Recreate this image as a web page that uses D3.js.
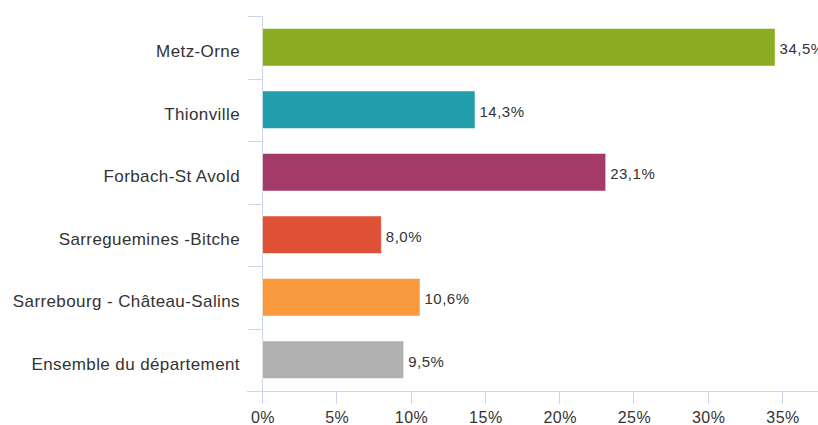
<!DOCTYPE html>
<html lang="fr">
<head>
    <meta charset="UTF-8">
    <title>Part par arrondissement</title>
    <style>
        body, html {
            margin: 0;
            padding: 0;
            background: #fff;
            overflow: hidden;
            font-family: "Liberation Sans", Arial, sans-serif;
        }
        .axis-line, .tick-line { stroke: #ccd6eb; stroke-width: 1; }
    </style>
</head>
<body>
    <svg id="chart" width="818" height="425"></svg>

    <script src="https://cdnjs.cloudflare.com/ajax/libs/d3/7.8.5/d3.min.js"></script>
    <script>
        const categories = ["Metz-Orne", "Thionville", "Forbach-St Avold", "Sarreguemines -Bitche", "Sarrebourg - Château-Salins", "Ensemble du département"];
        const values = [34.5, 14.3, 23.1, 8.0, 10.6, 9.5];
        const colors = ["#8aac23", "#219dac", "#a33a67", "#df5136", "#f89a3d", "#b0b0b0"];
        const xTicks = [0, 5, 10, 15, 20, 25, 30, 35];

        const svg = d3.select("#chart");

        const x = d3.scaleLinear().domain([0, 35]).range([262, 782]);
        const y = d3.scaleBand().domain(categories).range([16, 391]).paddingInner(0.4).paddingOuter(0.2);

        const fmt = v => d3.format(".1f")(v).replace(".", ",") + "%";

        // category boundary ticks on the left of the axis
        const bounds = d3.range(categories.length + 1).map(i => 16 + i * y.step());
        svg.selectAll(".ytick")
            .data(bounds)
            .enter().append("line")
            .attr("class", "tick-line")
            .attr("x1", 248).attr("x2", 262)
            .attr("y1", d => Math.round(d) + 0.5).attr("y2", d => Math.round(d) + 0.5);

        // axis lines
        svg.append("line")
            .attr("class", "axis-line")
            .attr("x1", 247).attr("x2", 818)
            .attr("y1", 391.5).attr("y2", 391.5);
        svg.append("line")
            .attr("class", "axis-line")
            .attr("x1", 262.5).attr("x2", 262.5)
            .attr("y1", 16).attr("y2", 391);

        svg.selectAll(".xtick")
            .data(xTicks)
            .enter().append("line")
            .attr("class", "tick-line")
            .attr("x1", d => Math.round(x(d)) + 0.5).attr("x2", d => Math.round(x(d)) + 0.5)
            .attr("y1", 391).attr("y2", 404);

        svg.selectAll(".xlabel")
            .data(xTicks)
            .enter().append("text")
            .attr("x", d => x(d) + 1)
            .attr("y", 423)
            .attr("text-anchor", "middle")
            .attr("fill", "#333")
            .style("font-size", "16px")
            .style("letter-spacing", "0.5px")
            .text(d => d + "%");

        // bars
        svg.selectAll(".bar")
            .data(values)
            .enter().append("rect")
            .attr("x", x(0) + 0.5)
            .attr("y", (d, i) => y(categories[i]))
            .attr("width", d => x(d) - x(0))
            .attr("height", y.bandwidth())
            .attr("fill", (d, i) => colors[i])
            .attr("stroke", "rgba(255,255,255,0.5)")
            .attr("stroke-width", 1);

        // value labels
        svg.selectAll(".val")
            .data(values)
            .enter().append("text")
            .attr("x", d => x(d) + 5)
            .attr("y", (d, i) => y(categories[i]) + y.bandwidth() / 2 + 7)
            .attr("fill", "#333")
            .style("font-size", "15px")
            .style("letter-spacing", "0.5px")
            .text(d => fmt(d));

        // category labels
        svg.selectAll(".cat")
            .data(categories)
            .enter().append("text")
            .attr("x", 240)
            .attr("y", d => y(d) + y.bandwidth() / 2 + 10)
            .attr("text-anchor", "end")
            .attr("fill", "#333")
            .style("font-size", "17px")
            .style("letter-spacing", "0.4px")
            .text(d => d);
    </script>
</body>
</html>
